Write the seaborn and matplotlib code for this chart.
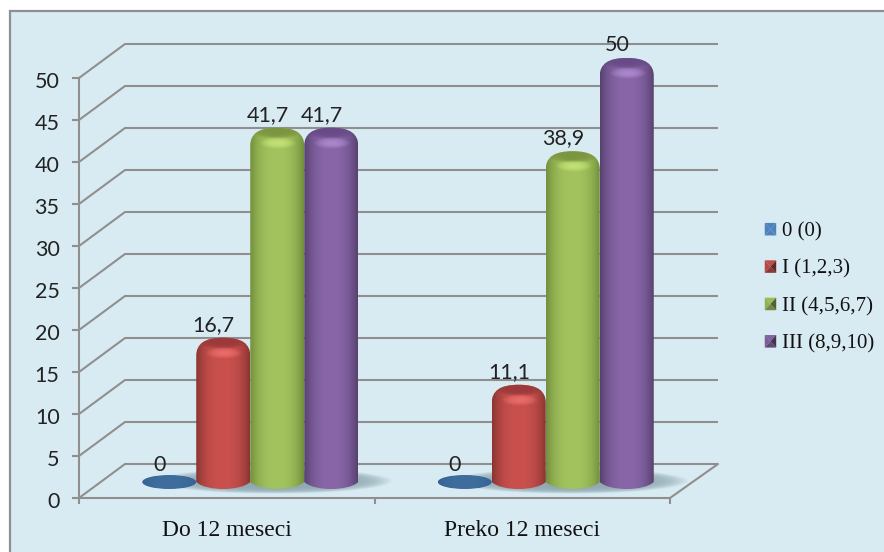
#!/usr/bin/env python3
import numpy as np
import pandas as pd
import matplotlib
matplotlib.use("Agg")
import matplotlib.pyplot as plt
import seaborn as sns
from matplotlib.legend_handler import HandlerBase
from matplotlib.patches import PathPatch, Polygon, Rectangle
from matplotlib.path import Path
from matplotlib.transforms import Affine2D, ScaledTranslation
from matplotlib.colors import to_rgb

grupe = ["Do 12 meseci", "Preko 12 meseci"]
stepeni = ["0 (0)", "I (1,2,3)", "II (4,5,6,7)", "III (8,9,10)"]
vrednosti_do_12 = [0, 16.7, 41.7, 41.7]
vrednosti_preko_12 = [0, 11.1, 38.9, 50]
y_podela = [0, 5, 10, 15, 20, 25, 30, 35, 40, 45, 50]

boje = ["#4F81BD", "#C9504D", "#A2C35E", "#8866A8"]
ivice = ["#2D5A8C", "#8A3533", "#74903C", "#57416F"]
kape = ["#2D5A8C", "#99393A", "#7A9340", "#674A85"]
sjaj = ["#4F81BD", "#FF7F7C", "#D8F585", "#C39EE3"]

W, H = 884, 552
L, R, T, B = 79, 670, 78, 498
POZADINA = "#D9EBF2"
LINIJA = "#8F8F8F"
SERIF = "Liberation Serif"
SANS = "Lato"

plt.rcParams["image.composite_image"] = False
sns.set_theme(style="white")

df = pd.DataFrame({
    "grupa": np.repeat(grupe, len(stepeni)),
    "stepen": stepeni * len(grupe),
    "vrednost": vrednosti_do_12 + vrednosti_preko_12,
})

fig = plt.figure(figsize=(W / 100, H / 100), dpi=100, facecolor="white")
ax = fig.add_axes([L / W, 1 - B / H, (R - L) / W, (B - T) / H])
ax.patch.set_alpha(0)
fig.add_artist(Rectangle((10 / W, -0.05), 1, 1.05 - 11 / H,
                         transform=fig.transFigure, facecolor=POZADINA,
                         edgecolor=LINIJA, linewidth=1.6, zorder=-5))

sns.barplot(data=df, x="grupa", y="vrednost", hue="stepen", order=grupe,
            hue_order=stepeni, palette=boje, saturation=1, gap=0,
            width=216 / 295.5, ax=ax)
ax.set_xlim(-0.5, 1.5)
ax.set_ylim(0, 50)


def sx(px):
    return px * 2 / (R - L)


def sy(px):
    return px * 50 / (B - T)


pomak = ax.transData + ScaledTranslation(23.5 / 100, 16 / 100, fig.dpi_scale_trans)


def mrlja(cx, cy, rx, ry, boja, jacina, z, clip=None, stepen=2):
    xx, yy = np.meshgrid(np.linspace(-1, 1, 80), np.linspace(-1, 1, 40))
    r = np.sqrt(xx ** 2 + yy ** 2)
    a = np.clip(1 - r ** stepen, 0, 1) * jacina
    slika = np.dstack([np.ones_like(a) * c for c in to_rgb(boja)] + [a])
    im = ax.imshow(slika, extent=(cx - rx, cx + rx, cy - ry, cy + ry),
                   aspect="auto", interpolation="bilinear", zorder=z)
    im.set_transform(pomak)
    im.set_clip_box(fig.bbox)
    im.set_clip_path(clip)
    return im


def valjak(bar, i, z):
    x0, x1 = bar.get_x(), bar.get_x() + bar.get_width()
    xc = (x0 + x1) / 2
    w = (x1 - x0) / 2
    v = bar.get_height()
    if v == 0:
        # nula: ostaje samo osnova valjka
        putanja = Path.unit_circle().transformed(Affine2D().scale(w, sy(7)).translate(xc, 0))
    else:
        yt = v + sy(4)
        sh = sy(18)
        dno = sy(7)
        kodovi = [Path.MOVETO, Path.LINETO, Path.CURVE4, Path.CURVE4, Path.CURVE4,
                  Path.CURVE4, Path.CURVE4, Path.CURVE4, Path.LINETO,
                  Path.CURVE4, Path.CURVE4, Path.CURVE4,
                  Path.CURVE4, Path.CURVE4, Path.CURVE4]
        tacke = [(x0, 0), (x0, yt - sh), (x0, yt - sh * 0.35), (xc - w * 0.7, yt), (xc, yt),
                 (xc + w * 0.7, yt), (x1, yt - sh * 0.35), (x1, yt - sh), (x1, 0),
                 (x1 - w * 0.2, -dno * 0.7), (xc + w * 0.4, -dno), (xc, -dno),
                 (xc - w * 0.4, -dno), (x0 + w * 0.2, -dno * 0.7), (x0, 0)]
        putanja = Path(tacke, kodovi)
    oblik = PathPatch(putanja, transform=pomak, facecolor="none", edgecolor="none",
                      clip_on=False, zorder=z)
    ax.add_patch(oblik)
    bar.set_visible(False)

    u = np.abs(np.linspace(-1, 1, 64)) ** 2.6
    if v == 0:
        u = u * 0.6
    sredina = np.array(to_rgb(boje[i] if v else "#3F6E9E"))
    ivica = np.array(to_rgb(ivice[i]))
    gradijent = sredina[None, None, :] + (ivica - sredina)[None, None, :] * u[None, :, None]
    vrh = v + sy(5) if v else sy(8)
    im = ax.imshow(gradijent, extent=(x0, x1, -sy(8), vrh), aspect="auto",
                   interpolation="bilinear", zorder=z)
    im.set_transform(pomak)
    im.set_clip_box(fig.bbox)
    im.set_clip_path(oblik)
    if v:
        mrlja(xc, v + sy(0), w * 1.0, sy(7.5), kape[i], 0.95, z + 0.1, oblik, stepen=4)
        mrlja(xc + sx(1), v - sy(11), w * 0.7, sy(6), sjaj[i], 0.6, z + 0.2, oblik)


class Piramida(HandlerBase):
    def create_artists(self, legend, orig, xd, yd, w, h, fontsize, trans):
        x0, y0 = -xd, -yd
        x1, y1 = x0 + w, y0 + h
        c = ((x0 + x1) / 2, (y0 + y1) / 2)
        baza = np.array(to_rgb(orig.get_facecolor()))
        senke = [1.0, 1.0, 1.0, 1.0] if orig is ruke[0] else [0.95, 0.9, 0.7, 0.5]
        trouglovi = [[(x0, y1), (x1, y1), c], [(x0, y0), (x0, y1), c],
                     [(x0, y0), (x1, y0), c], [(x1, y0), (x1, y1), c]]
        return [Polygon(p, closed=True, facecolor=baza * s, edgecolor="none", transform=trans)
                for p, s in zip(trouglovi, senke)]


# zidovi i pod
dx, dy = sx(46), sy(34)
xl0, xl1 = ax.get_xlim()
for t in y_podela:
    ax.plot([xl0, xl0 + dx, xl1 + sx(48)], [t, t + dy, t + dy], color=LINIJA, lw=1.5,
            clip_on=False, zorder=1, solid_capstyle="butt")
ax.plot([xl1, xl1 + sx(48)], [0, dy], color=LINIJA, lw=1.5, clip_on=False, zorder=1)

# sen iza stubica
for k in range(len(grupe)):
    mrlja(k + sx(24), sy(0.5), sx(120), sy(13), "#7E99A3", 0.8, 2, stepen=6)

z = 3.0
for i, cont in enumerate(ax.containers):
    for bar in cont:
        valjak(bar, i, z)
        z += 0.5

for i, cont in enumerate(ax.containers):
    for bar in cont:
        v = bar.get_height()
        tekst = f"{v:g}".replace(".", ",")
        ax.annotate(tekst, xy=(bar.get_x() + bar.get_width() / 2, v), xycoords=pomak,
                    xytext=(-7, 12), textcoords="offset points", ha="center", va="center",
                    fontsize=15.5, family=SANS, color="#222222", zorder=20)

ax.set_xlim(xl0, xl1)
ax.set_ylim(0, 50)
ax.set_xlabel("")
ax.set_ylabel("")
ax.set_yticks(y_podela)
ax.set_yticklabels([str(t) for t in y_podela], fontsize=15.5, family=SANS, color="#222222")
ax.set_xticks([-0.5, 0.5, 1.5])
ax.set_xticklabels([])
ax.set_xticks([0, 1], minor=True)
ax.set_xticklabels(grupe, minor=True, fontsize=17, family=SERIF, color="#111111")
ax.tick_params(axis="x", which="major", length=4, width=1.5, color=LINIJA, bottom=True)
ax.tick_params(axis="x", which="minor", length=0, pad=15.5, bottom=True)
ax.tick_params(axis="y", length=5, width=1.5, color=LINIJA, left=True, pad=9)
for oznaka in ax.get_yticklabels():
    oznaka.set_transform(oznaka.get_transform() + ScaledTranslation(0, -2 / 100, fig.dpi_scale_trans))
sns.despine(ax=ax, top=True, right=True)
for s in ["left", "bottom"]:
    ax.spines[s].set_color(LINIJA)
    ax.spines[s].set_linewidth(1.5)
    ax.spines[s].set_zorder(1.5)

# legenda
ruke, natpisi = ax.get_legend_handles_labels()
if ax.get_legend() is not None:
    ax.get_legend().remove()
leg = fig.legend(ruke, natpisi, loc="center left", bbox_to_anchor=(746 / W, 1 - 288 / H),
                 frameon=False, prop={"family": SERIF, "size": 15}, handlelength=0.55,
                 handleheight=0.55, handletextpad=0.3, labelspacing=0.87,
                 handler_map={r: Piramida() for r in ruke})
for tx in leg.get_texts():
    tx.set_color("#111111")

plt.savefig("out.png", dpi=100, facecolor="white")
